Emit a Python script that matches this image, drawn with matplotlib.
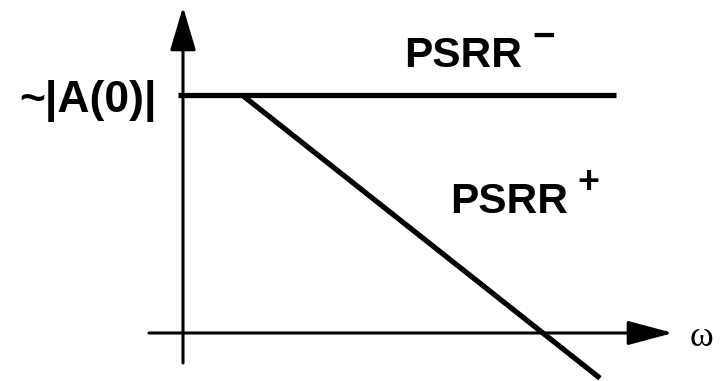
import matplotlib
matplotlib.use("Agg")
import matplotlib.pyplot as plt

# Schematic data (x: frequency units, y: normalized |A(0)| = 1)
psrr_minus_x = [-0.05, 4.33]
psrr_minus_y = [1.0, 1.0]
psrr_plus_x = [0.59, 4.17]
psrr_plus_y = [1.0, -0.19]

xaxis_range = [-0.34, 4.90]
yaxis_range = [-0.126, 1.37]

labels = {
    "a0": "~|A(0)|",
    "psrr": "PSRR",
    "minus": "\u2212",
    "plus": "+",
    "omega": "ω",
}

fig = plt.figure(figsize=(7.21, 3.81), dpi=100)
ax = fig.add_axes([0, 0, 1, 1])
ax.set_xlim(-1.83, 5.38)
ax.set_ylim(-0.2017, 1.399)
ax.axis('off')

# axes with arrows
ax.annotate("", xy=(xaxis_range[1], 0), xytext=(xaxis_range[0], 0),
            arrowprops=dict(arrowstyle="-|>,head_length=28,head_width=7.5",
                            color='black', lw=2.2, shrinkA=0, shrinkB=0,
                            mutation_scale=1))
ax.annotate("", xy=(0, yaxis_range[1]), xytext=(0, yaxis_range[0]),
            arrowprops=dict(arrowstyle="-|>,head_length=27,head_width=8",
                            color='black', lw=2.2, shrinkA=0, shrinkB=0,
                            mutation_scale=1))

ax.plot(psrr_minus_x, psrr_minus_y, color='black', lw=3.8, solid_capstyle='butt')
ax.plot(psrr_plus_x, psrr_plus_y, color='black', lw=3.8, solid_capstyle='butt')

sans = 'Liberation Sans'
ax.text(-0.26, 0.929, labels["a0"], ha='right', va='baseline',
        fontsize=32, fontweight='bold', family=sans)

ax.text(2.21, 1.118, labels["psrr"], ha='left', va='baseline',
        fontsize=30.5, fontweight='bold', family=sans)
ax.text(3.61, 1.200, labels["minus"], ha='center', va='baseline',
        fontsize=28, fontweight='bold', family=sans)

ax.text(2.67, 0.504, labels["psrr"], ha='left', va='baseline',
        fontsize=30.5, fontweight='bold', family=sans)
ax.text(4.05, 0.588, labels["plus"], ha='center', va='baseline',
        fontsize=27, fontweight='bold', family=sans)

ax.text(5.07, -0.017, labels["omega"], ha='left', va='center',
        fontsize=26, family='Liberation Serif')

fig.savefig("out.png", dpi=100)
